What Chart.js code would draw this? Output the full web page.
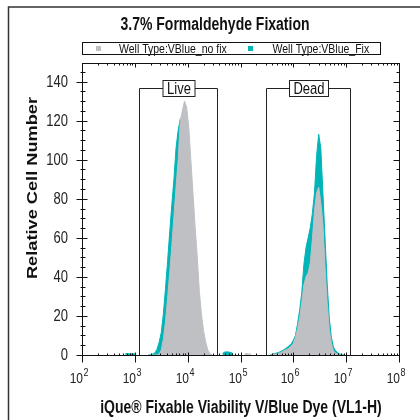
<!DOCTYPE html>
<html>
<head>
<meta charset="utf-8">
<script src="https://cdn.jsdelivr.net/npm/chart.js@4.4.1/dist/chart.umd.min.js"></script>
<style>
  html, body { margin: 0; padding: 0; background: #fff; }
  #wrap { width: 420px; height: 420px; }
</style>
</head>
<body>
<div id="wrap"><canvas id="histo" width="420" height="420"></canvas></div>
<script>
// Histogram bins: channel position as log10(intensity), counts per bin
// low-intensity debris just above 10^3
const debrisLog   = [2.82, 2.86, 2.90, 2.94, 2.98, 3.02];
const debrisFix   = [0.6, 0.7, 0.6, 0.7, 0.6, 0.6];
const debrisNoFix = [null, null, null, null, null, null];

// live population
const liveLog   = [3.26, 3.30, 3.34, 3.38, 3.42, 3.46, 3.50, 3.54, 3.58, 3.62, 3.66, 3.70, 3.74, 3.78, 3.82, 3.86,
                   3.90, 3.94, 3.98, 4.02, 4.06, 4.10, 4.14, 4.18, 4.22, 4.26, 4.30, 4.34, 4.38, 4.42, 4.46];
const liveFix   = [0.1, 0.2, 0.5, 1, 3, 6.5, 11.5, 21, 34, 48, 63, 77, 90, 106, 115, 121,
                   122, 118, 110, 98, 84, 70, 55, 40, 27, 16, 8, 3, 1, 0.3, 0];
const liveNoFix = [0, 0, 0, 0, 0, 0.5, 2.5, 8, 17, 29, 42, 56, 71, 86, 100, 120,
                   125, 130, 127, 117, 100, 83, 66, 51, 33, 21, 12.5, 6.8, 2.7, 0.7, 0];

// scattered events between the gates
const midLog   = [4.66, 4.70, 4.74, 4.78, 4.82, 4.86, 4.90, 5.08, 5.12, 5.16, 5.20];
const midFix   = [0.8, 1.5, 1.6, 1.5, 1.3, 0.7, null, null, null, null, null];
const midNoFix = [null, null, null, null, null, null, null, 0.5, 0.8, 0.4, 0.6];

// dead population
const deadLog   = [5.56, 5.60, 5.64, 5.68, 5.72, 5.76, 5.80, 5.84, 5.88, 5.92, 5.96, 6.00, 6.04, 6.08, 6.12, 6.16, 6.20, 6.24,
                   6.28, 6.32, 6.36, 6.40, 6.44, 6.48, 6.52, 6.56, 6.60, 6.64, 6.68, 6.72, 6.76, 6.80, 6.84, 6.88, 6.92, 6.96];
const deadFix   = [0.2, 0.4, 0.7, 1, 1.3, 1.8, 2.4, 3, 3.8, 4.7, 5.8, 7.5, 10, 16, 23, 32, 46.5, 55,
                   60, 65, 72.5, 83, 102, 113, 106, 83, 60, 37, 19, 9, 4, 2.2, 1.2, 0.5, 0.2, 0];
const deadNoFix = [0, 0.1, 0.3, 0.5, 0.8, 1.2, 1.8, 2.4, 2.8, 3.6, 4.6, 6, 9, 13.5, 19, 27, 36, 40,
                   42, 47, 59, 74, 83, 86, 78, 67, 45, 27, 13, 6, 2, 1, 0.4, 0, 0, 0];

// axis ticks
const xDecades = [2, 3, 4, 5, 6, 7, 8];
const yLabels  = [0, 20, 40, 60, 80, 100, 120, 140];
const yMinorStep = 5;
const yMax = 149.5;

// gates (intensity range, height in counts)
const gates = [
  { name: 'Live', from: 1.2e3, to: 3.6e4, top: 136.5 },
  { name: 'Dead', from: 3.0e5, to: 1.18e7, top: 136.5 }
];

const seriesNames = ['Well Type:VBlue_no fix', 'Well Type:VBlue_Fix'];
const GRAY = '#bec0c4';
const TEAL = '#00b4b7';
const INK = '#111';
const FONT = '"Liberation Sans", Arial, sans-serif';
const TALL = 1.25; // text in this panel is drawn a bit taller than wide

// join segments, a null point between them breaks the line and fill
function joinSegments(segs) {
  const out = [];
  segs.forEach(([logs, counts], i) => {
    if (i > 0) out.push({ x: 10 ** (logs[0] - 0.02), y: null });
    logs.forEach((l, j) => out.push({ x: 10 ** l, y: counts[j] }));
  });
  return out;
}

const noFixData = joinSegments([[debrisLog, debrisNoFix], [liveLog, liveNoFix], [midLog, midNoFix], [deadLog, deadNoFix]]);
const fixData   = joinSegments([[debrisLog, debrisFix], [liveLog, liveFix], [midLog, midFix], [deadLog, deadFix]]);

function line(ctx, x1, y1, x2, y2) {
  ctx.beginPath(); ctx.moveTo(x1, y1); ctx.lineTo(x2, y2); ctx.stroke();
}

// horizontal text stretched vertically around its anchor
function tallText(ctx, text, x, y) {
  ctx.save();
  ctx.translate(x, y);
  ctx.scale(1, TALL);
  ctx.fillText(text, 0, 0);
  ctx.restore();
}

const decorations = {
  id: 'decorations',
  afterDatasetsDraw(chart) {
    const { ctx, chartArea: a, scales: { x, y } } = chart;
    const left = Math.round(a.left) + 0.5, right = Math.round(a.right) + 0.5;
    const top = Math.round(a.top) + 0.5, bottom = Math.round(a.bottom) + 0.5;
    ctx.save();
    ctx.strokeStyle = INK;
    ctx.lineWidth = 1;

    // gates
    gates.forEach(g => {
      const l = Math.round(x.getPixelForValue(g.from)) + 0.5;
      const r = Math.round(x.getPixelForValue(g.to)) + 0.5;
      const t = Math.round(y.getPixelForValue(g.top)) + 0.5;
      ctx.strokeStyle = '#222';
      ctx.beginPath();
      ctx.moveTo(l, bottom); ctx.lineTo(l, t); ctx.lineTo(r, t); ctx.lineTo(r, bottom);
      ctx.stroke();
      ctx.font = '13px ' + FONT;
      const w = Math.round(ctx.measureText(g.name).width + 8), h = 16;
      const cx = Math.round((l + r) / 2);
      ctx.fillStyle = '#fff';
      ctx.fillRect(cx - w / 2, t - h / 2, w, h);
      ctx.strokeRect(cx - w / 2, t - h / 2, w, h);
      ctx.fillStyle = INK;
      ctx.textAlign = 'center';
      ctx.textBaseline = 'middle';
      tallText(ctx, g.name, cx, t + 1);
    });

    // plot box
    ctx.strokeStyle = INK;
    ctx.strokeRect(left, top, right - left, bottom - top);

    // x ticks on bottom and top edges
    xDecades.forEach((d, i) => {
      const px = Math.round(x.getPixelForValue(10 ** d)) + 0.5;
      line(ctx, px, bottom - 3, px, bottom + 7);
      line(ctx, px, top, px, top + 4);
      if (i < xDecades.length - 1) {
        for (let k = 2; k <= 9; k++) {
          const mx = Math.round(x.getPixelForValue(k * 10 ** d)) + 0.5;
          line(ctx, mx, bottom - 2, mx, bottom);
          line(ctx, mx, top, mx, top + 2);
        }
      }
      // label 10 with superscript exponent
      ctx.fillStyle = '#222';
      ctx.textBaseline = 'alphabetic';
      ctx.textAlign = 'right';
      ctx.font = '12px ' + FONT;
      tallText(ctx, '10', px + 0.5, 383);
      ctx.textAlign = 'left';
      ctx.font = '9px ' + FONT;
      tallText(ctx, String(d), px + 1, 376);
    });

    // y ticks on left and right edges
    for (let v = 0; v <= yMax; v += yMinorStep) {
      const py = Math.round(y.getPixelForValue(v)) + 0.5;
      const major = yLabels.includes(v);
      if (major) {
        line(ctx, left - 6, py, left + 5, py);
        line(ctx, right - 6, py, right, py);
      } else {
        line(ctx, left - 2, py, left + 3, py);
        line(ctx, right - 3, py, right, py);
      }
    }
    ctx.fillStyle = '#222';
    ctx.font = '13px ' + FONT;
    ctx.textAlign = 'right';
    ctx.textBaseline = 'middle';
    yLabels.forEach(v => tallText(ctx, String(v), 68, y.getPixelForValue(v) + 0.5));

    // axis titles
    ctx.fillStyle = INK;
    ctx.font = 'bold 14px ' + FONT;
    ctx.textAlign = 'center';
    ctx.textBaseline = 'middle';
    tallText(ctx, 'iQue® Fixable Viability V/Blue Dye (VL1-H)', 241, 408);
    ctx.save();
    ctx.translate(33, 188);
    ctx.rotate(-Math.PI / 2);
    ctx.scale(1.3, 1);
    ctx.fillText('Relative Cell Number', 0, 0);
    ctx.restore();

    // chart title
    tallText(ctx, '3.7% Formaldehyde Fixation', 215, 25);

    // legend
    ctx.strokeRect(82.5, 42.5, 298, 12);
    ctx.font = '10.5px ' + FONT;
    ctx.textAlign = 'left';
    ctx.fillStyle = GRAY;
    ctx.fillRect(96, 46, 5, 5);
    ctx.fillStyle = TEAL;
    ctx.fillRect(248, 46, 5, 5);
    ctx.fillStyle = INK;
    tallText(ctx, seriesNames[0], 119, 49);
    tallText(ctx, seriesNames[1], 272.5, 49);

    // panel frame
    ctx.strokeStyle = '#333';
    ctx.lineWidth = 1.5;
    ctx.beginPath();
    ctx.moveTo(8.5, 420); ctx.lineTo(8.5, 7); ctx.lineTo(420, 7);
    ctx.stroke();
    ctx.restore();
  }
};

new Chart(document.getElementById('histo'), {
  type: 'line',
  data: {
    datasets: [
      {
        label: seriesNames[0],
        data: noFixData,
        backgroundColor: GRAY,
        borderColor: GRAY,
        borderWidth: 1,
        fill: 'origin',
        pointRadius: 0,
        tension: 0,
        spanGaps: false
      },
      {
        label: seriesNames[1],
        data: fixData,
        backgroundColor: TEAL,
        borderColor: TEAL,
        borderWidth: 1,
        fill: 'origin',
        pointRadius: 0,
        tension: 0,
        spanGaps: false
      }
    ]
  },
  options: {
    responsive: false,
    devicePixelRatio: 1,
    animation: false,
    layout: { padding: { left: 82, right: 21, top: 63, bottom: 65 } },
    plugins: {
      legend: { display: false },
      title: { display: false },
      tooltip: { enabled: false }
    },
    scales: {
      x: { type: 'logarithmic', display: false, min: 100, max: 1e8 },
      y: { type: 'linear', display: false, min: 0, max: yMax }
    }
  },
  plugins: [decorations]
});
</script>
</body>
</html>
